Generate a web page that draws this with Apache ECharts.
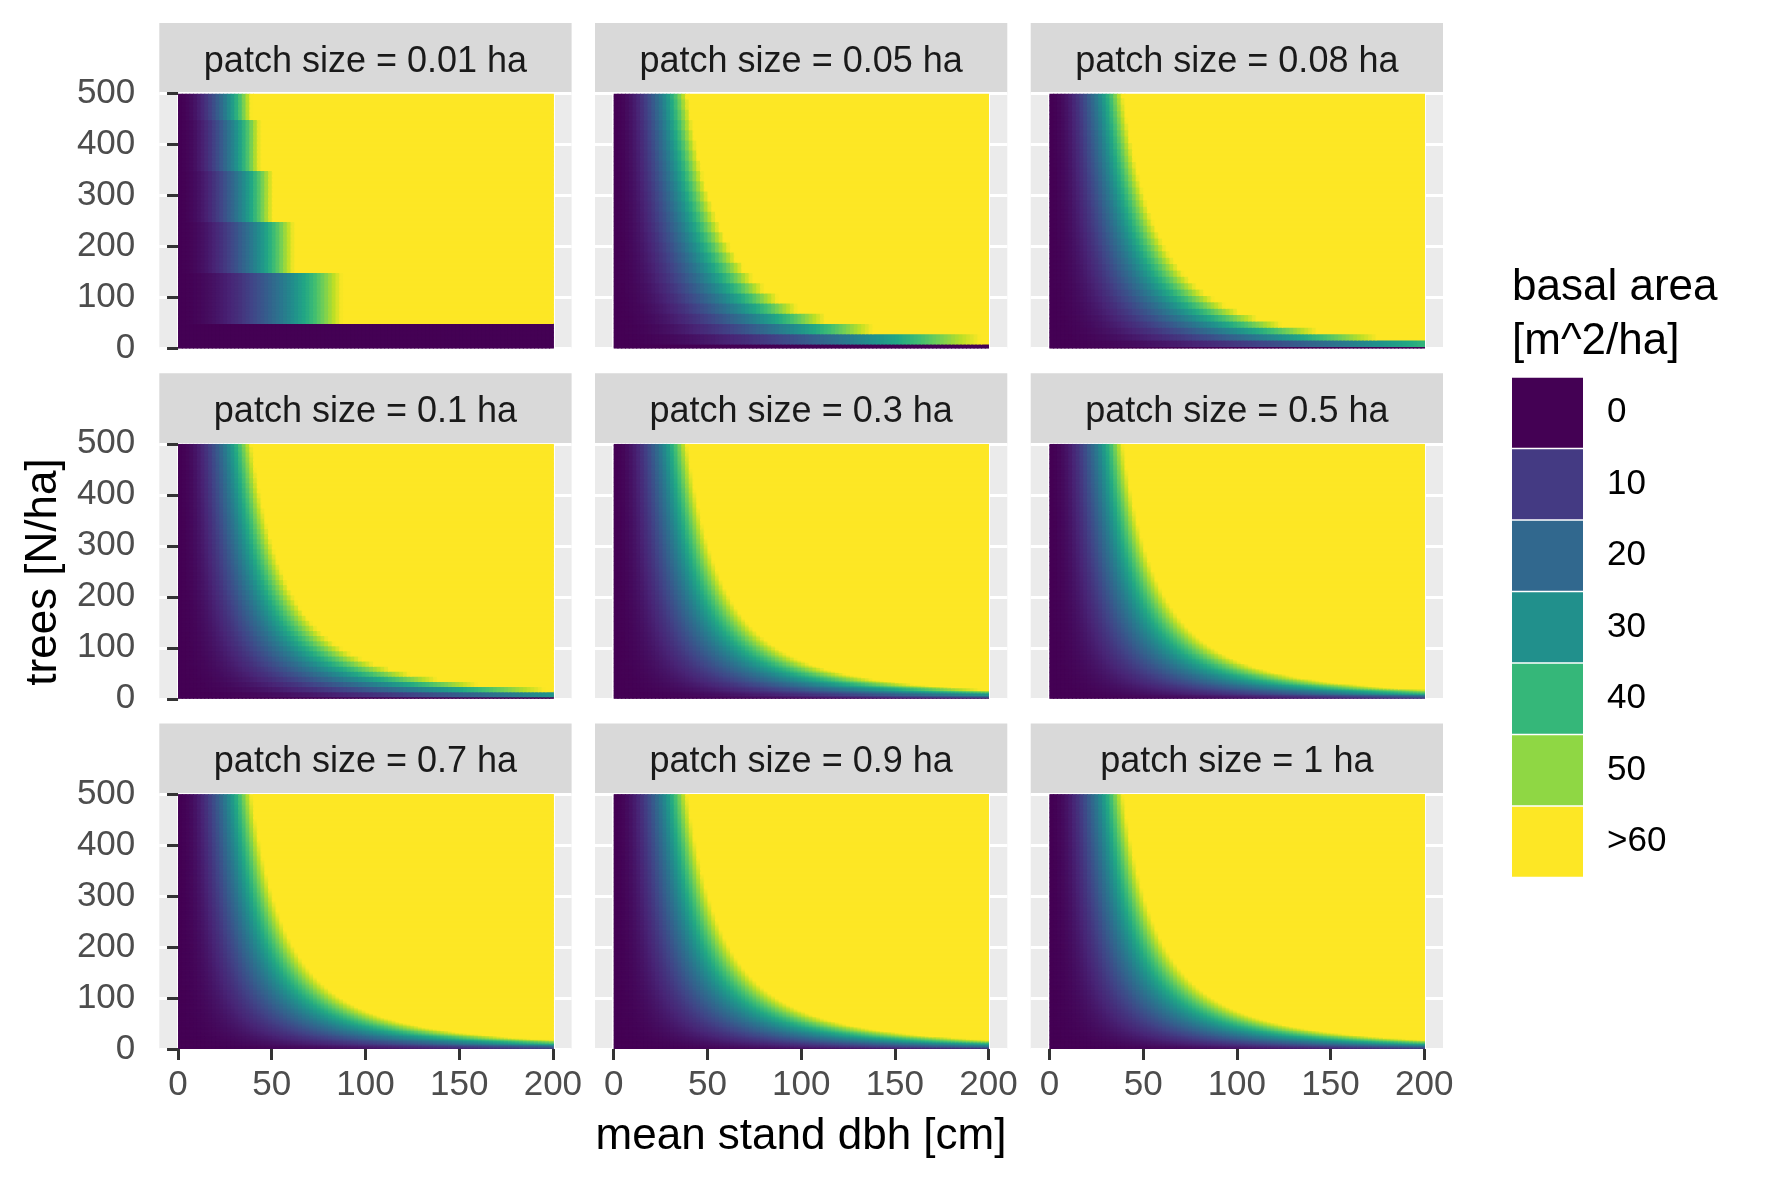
<!DOCTYPE html>
<html>
<head>
<meta charset="utf-8">
<script src="https://cdn.jsdelivr.net/npm/echarts@6/dist/echarts.min.js"></script>
<style>
  html, body { margin: 0; padding: 0; background: #fff; }
  #chart { width: 1771px; height: 1181px; }
</style>
</head>
<body>
<div id="chart"></div>
<script>
	// facets and scales
	var patchSizes = [0.01, 0.05, 0.08, 0.1, 0.3, 0.5, 0.7, 0.9, 1];	// ha
	var dbhTicks = [0, 50, 100, 150, 200];				// cm
	var treeTicks = [0, 100, 200, 300, 400, 500];		// N/ha
	var legendBreaks = [0, 10, 20, 30, 40, 50, 60];		// m^2/ha
	var legendLabels = ['0', '10', '20', '30', '40', '50', '>60'];
	var dbhStep = 2;		// raster cell width, cm
	var treeStep = 2.5;		// raster cell height, N/ha
	var baCap = 60;			// values above are squished to the top colour

	var viridis = ['#440154', '#482576', '#414487', '#35608D', '#2A788E', '#21908C',
		'#22A884', '#43BF71', '#7AD151', '#BBDF27', '#FDE725'];
	var viridis7 = ['#440154', '#443A83', '#31688E', '#21908C', '#35B779', '#8FD744', '#FDE725'];

	var font = '"Liberation Sans", Arial, Helvetica, sans-serif';

	// basal area of a stand: stems actually fitting in the patch, per ha, times tree cross section
	function buildRaster(p) {
		var rows = [];
		var dMax = dbhTicks[dbhTicks.length - 1];
		var nMax = treeTicks[treeTicks.length - 1];
		for (var n0 = 0; n0 < nMax; n0 += treeStep) {
			var nc = n0 + treeStep / 2;
			var stems = Math.round(nc * p) / p;
			for (var d0 = 0; d0 < dMax; d0 += dbhStep) {
				var dc = d0 + dbhStep / 2;
				var ba = stems * Math.PI * Math.pow(dc / 200, 2);
				if (ba >= baCap) {
					rows.push([d0, dMax, n0, n0 + treeStep, baCap]);
					break;
				}
				rows.push([d0, d0 + dbhStep, n0, n0 + treeStep, ba]);
			}
		}
		return rows;
	}

	function renderTile(params, api) {
		var a = api.coord([api.value(0), api.value(3)]);
		var b = api.coord([api.value(1), api.value(2)]);
		return {
			type: 'rect',
			shape: { x: a[0], y: a[1], width: b[0] - a[0] + 1, height: b[1] - a[1] + 1 },
			style: { fill: api.visual('color') }
		};
	}

	// layout (px)
	var panelLeft0 = 159.3, colPitch = 435.7, panelW = 412.3;
	var stripTop0 = 23, rowPitch = 350.3, stripH = 70.5, panelH = 255;
	var inset = panelW * 10 / 220;

	var grids = [], xAxes = [], yAxes = [], series = [], graphics = [];
	var tickStyle = { color: '#333333', width: 3 };

	for (var k = 0; k < patchSizes.length; k++) {
		var row = Math.floor(k / 3), col = k % 3;
		var pl = panelLeft0 + col * colPitch;
		var st = stripTop0 + row * rowPitch;
		var pt = st + stripH;

		// panel background with horizontal grid lines
		grids.push({ left: pl, top: pt, width: panelW, height: panelH,
			show: true, backgroundColor: '#EBEBEB', borderWidth: 0 });
		xAxes.push({ gridIndex: 2 * k, type: 'value', min: -10, max: 210, show: false });
		yAxes.push({
			gridIndex: 2 * k, type: 'value', min: treeTicks[0], max: treeTicks[treeTicks.length - 1],
			interval: treeTicks[1] - treeTicks[0],
			axisLine: { show: false },
			axisTick: { show: col === 0, length: 11, lineStyle: tickStyle },
			axisLabel: { show: col === 0, margin: 24, fontSize: 35, color: '#4D4D4D', fontFamily: font,
				padding: [5, 0, 0, 0] },
			splitLine: { show: true, lineStyle: { color: '#ffffff', width: 3 } }
		});

		// data area
		grids.push({ left: pl + inset, top: pt, width: panelW - 2 * inset, height: panelH });
		xAxes.push({
			gridIndex: 2 * k + 1, type: 'value', min: dbhTicks[0], max: dbhTicks[dbhTicks.length - 1],
			interval: dbhTicks[1] - dbhTicks[0],
			axisLine: { show: false },
			axisTick: { show: row === 2, length: 11, lineStyle: tickStyle },
			axisLabel: { show: row === 2, margin: 19, fontSize: 35, color: '#4D4D4D', fontFamily: font },
			splitLine: { show: true, lineStyle: { color: '#ffffff', width: 3 } }
		});
		yAxes.push({ gridIndex: 2 * k + 1, type: 'value', min: treeTicks[0],
			max: treeTicks[treeTicks.length - 1], show: false });

		series.push({
			type: 'custom',
			xAxisIndex: 2 * k + 1,
			yAxisIndex: 2 * k + 1,
			dimensions: ['d0', 'd1', 'n0', 'n1', 'ba'],
			encode: { x: ['d0', 'd1'], y: ['n0', 'n1'] },
			data: buildRaster(patchSizes[k]),
			renderItem: renderTile,
			clip: true,
			progressive: 0,
			silent: true
		});

		// facet strip
		graphics.push({ type: 'rect', shape: { x: pl, y: st, width: panelW, height: stripH },
			style: { fill: '#D9D9D9' }, silent: true });
		graphics.push({ type: 'text', x: pl + panelW / 2, y: st + stripH / 2 + 3.5,
			style: { text: 'patch size = ' + patchSizes[k] + ' ha', fontSize: 36, fontFamily: font,
				fill: '#1A1A1A', align: 'center', verticalAlign: 'middle' }, silent: true });
	}

	// axis titles and legend title
	graphics.push({ type: 'text', x: 801, y: 1136.5,
		style: { text: 'mean stand dbh [cm]', fontSize: 44, fontFamily: font, fill: '#000',
			align: 'center', verticalAlign: 'middle' } });
	graphics.push({ type: 'text', x: 44, y: 572, rotation: Math.PI / 2,
		style: { text: 'trees [N/ha]', fontSize: 44, fontFamily: font, fill: '#000',
			align: 'center', verticalAlign: 'middle' } });
	graphics.push({ type: 'text', x: 1512, y: 287.5,
		style: { text: 'basal area', fontSize: 44, fontFamily: font, fill: '#000',
			align: 'left', verticalAlign: 'middle' } });
	graphics.push({ type: 'text', x: 1512, y: 341.5,
		style: { text: '[m^2/ha]', fontSize: 44, fontFamily: font, fill: '#000',
			align: 'left', verticalAlign: 'middle' } });

	var seriesIdx = [];
	for (var s = 0; s < series.length; s++) seriesIdx.push(s);

	var option = {
		animation: false,
		backgroundColor: '#ffffff',
		grid: grids,
		xAxis: xAxes,
		yAxis: yAxes,
		visualMap: [
			{
				type: 'continuous', show: false, seriesIndex: seriesIdx, dimension: 4,
				min: legendBreaks[0], max: baCap, inRange: { color: viridis }
			},
			{
				type: 'piecewise', seriesIndex: [], orient: 'vertical', inverse: true, align: 'left',
				left: 1512, top: 377.7, padding: 0,
				itemWidth: 71, itemHeight: 70, itemGap: 1.5, itemSymbol: 'rect',
				textGap: 24, selectedMode: false, hoverLink: false,
				textStyle: { fontSize: 35, color: '#000', fontFamily: font },
				pieces: legendBreaks.map(function (v, i) {
					return { value: v, label: legendLabels[i], color: viridis7[i] };
				})
			}
		],
		graphic: graphics,
		series: series
	};

	echarts.init(document.getElementById('chart')).setOption(option);
</script>
</body>
</html>
